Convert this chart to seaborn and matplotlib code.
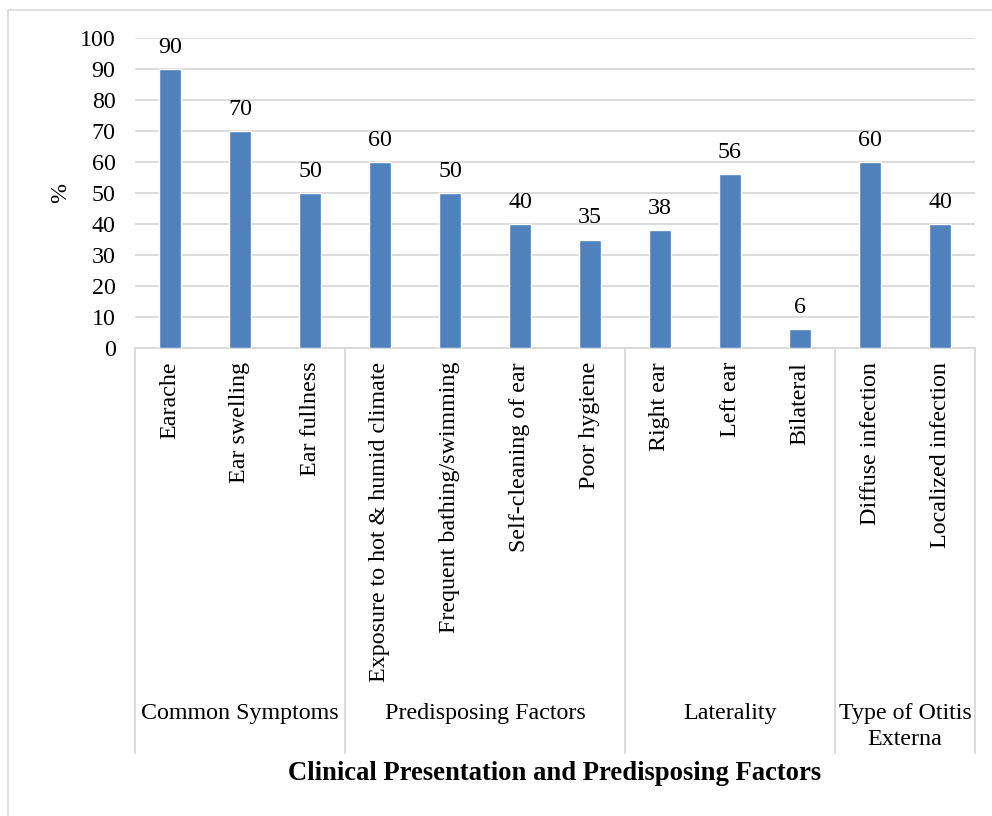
import matplotlib
matplotlib.use("Agg")
import matplotlib.pyplot as plt
import matplotlib.transforms as mtransforms
from matplotlib.lines import Line2D
import seaborn as sns
import pandas as pd

categories = [
    "Earache", "Ear swelling", "Ear fullness",
    "Exposure to hot & humid climate", "Frequent bathing/swimming",
    "Self-cleaning of ear", "Poor hygiene",
    "Right ear", "Left ear", "Bilateral",
    "Diffuse infection", "Localized infection",
]
values = [90, 70, 50, 60, 50, 40, 35, 38, 56, 6, 60, 40]
groups = ["Common Symptoms", "Predisposing Factors", "Laterality",
          "Type of Otitis\nExterna"]
group_sizes = [3, 4, 3, 2]
y_ticks = [0, 10, 20, 30, 40, 50, 60, 70, 80, 90, 100]

sns.set_theme(style="white")
plt.rcParams["font.family"] = ["Liberation Serif", "DejaVu Serif"]
plt.rcParams["text.color"] = "black"
plt.rcParams["axes.labelcolor"] = "black"
plt.rcParams["xtick.color"] = "black"
plt.rcParams["ytick.color"] = "black"

BAR = "#4F81BD"
GRID = "#D9D9D9"
FS = 17.3

W, H = 992, 816
fig = plt.figure(figsize=(W / 100, H / 100), dpi=100)
ax = fig.add_axes([135 / W, 1 - 348 / H, 840 / W, 310 / H])

df = pd.DataFrame({"cat": categories, "val": values})
sns.barplot(data=df, x="cat", y="val", color=BAR, saturation=1,
            width=0.31, ax=ax, zorder=3)

ax.set_xlim(-0.5, len(categories) - 0.5)
ax.set_ylim(0, 100)
ax.set_yticks(y_ticks)
ax.set_yticklabels([str(t) for t in y_ticks], fontsize=FS)
ax.tick_params(axis="y", length=0, pad=14, labelcolor="black")
ax.tick_params(axis="x", length=0, pad=10, labelcolor="black")
ax.set_xticks(range(len(categories)))
ax.set_xticklabels(categories, rotation=90, fontsize=FS, va="top")
ax.yaxis.grid(True, color=GRID, linewidth=1.3, zorder=0)
ax.set_axisbelow(True)
for side in ["top", "right", "left"]:
    ax.spines[side].set_visible(False)
ax.spines["bottom"].set_color(GRID)
ax.spines["bottom"].set_linewidth(1.3)
ax.set_xlabel("")
ax.set_ylabel("%", fontsize=FS, labelpad=6, color="black")

# value labels above each bar
for i, v in enumerate(values):
    ax.annotate(str(v), (i, v), xytext=(0, 8), textcoords="offset points",
                ha="center", va="bottom", fontsize=FS, color="black")

# group separators and group names below the category labels
trans = mtransforms.blended_transform_factory(ax.transData, ax.transAxes)
y_bottom = (348 - 753) / 310
edges = [-0.5]
for n in group_sizes:
    edges.append(edges[-1] + n)
for e in edges:
    ax.plot([e, e], [0, y_bottom], transform=trans, color=GRID,
            linewidth=1.3, clip_on=False)
for g, lo, hi in zip(groups, edges[:-1], edges[1:]):
    yc = 726.5 if "\n" in g else 713
    ax.text((lo + hi) / 2, (348 - yc) / 310, g, transform=trans,
            ha="center", va="center", fontsize=FS, linespacing=1.35,
            color="black")

fig.text(555 / W, 1 - 773 / H, "Clinical Presentation and Predisposing Factors",
         ha="center", va="center", fontsize=19.2, fontweight="bold",
         color="black")

# chart area outline (top and left edges)
fig.add_artist(Line2D([7.5 / W, 1], [1 - 9.5 / H, 1 - 9.5 / H],
                      transform=fig.transFigure, color=GRID, linewidth=1.2))
fig.add_artist(Line2D([7.5 / W, 7.5 / W], [0, 1 - 9.5 / H],
                      transform=fig.transFigure, color=GRID, linewidth=1.2))

fig.savefig("out.png", dpi=100)
